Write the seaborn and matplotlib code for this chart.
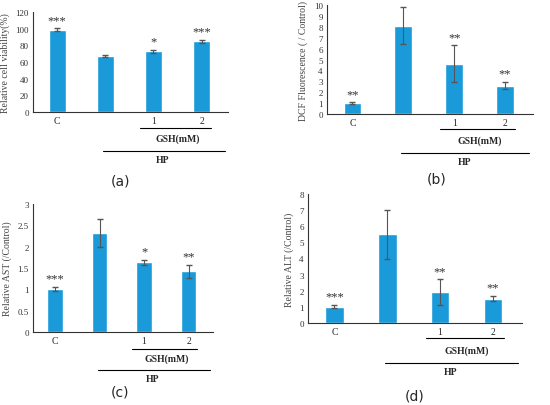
import matplotlib
matplotlib.use("Agg")
import matplotlib.pyplot as plt
import matplotlib.transforms as mtransforms
import seaborn as sns
import pandas as pd
import numpy as np

groups = ["C", "HP", "1", "2"]
tick_labels = ["C", "", "1", "2"]
a_vals = [99, 67, 73, 85]; a_err = [1.5, 1.5, 2, 2]
b_vals = [1.0, 8.1, 4.6, 2.6]; b_err = [0.1, 1.7, 1.7, 0.35]
c_vals = [1.0, 2.32, 1.63, 1.42]; c_err = [0.05, 0.33, 0.06, 0.15]
d_vals = [1.0, 5.5, 1.9, 1.5]; d_err = [0.1, 1.5, 0.8, 0.15]
a_stars = ["***", "", "*", "***"]
b_stars = ["**", "", "**", "**"]
c_stars = ["***", "", "*", "**"]
d_stars = ["***", "", "**", "**"]

sns.set_style("white")
plt.rcParams['font.family'] = ['Liberation Serif', 'DejaVu Serif']
W, H = 550, 406
fig = plt.figure(figsize=(W/100, H/100), dpi=100)

# (values, errors, stars, ylabel, ylim, step, axes box px, label, label pos px, bracket y px [gsh line, gsh text, hp line, hp text])
panels = [
    (a_vals, a_err, a_stars, "Relative cell viability(%)", (0, 120), 20, (33, 13, 228, 113), "(a)", (120, 182), (129, 134, 152, 156)),
    (b_vals, b_err, b_stars, "DCF Fluorescence ( / Control)", (0, 10), 1, (327, 6, 533, 115), "(b)", (437, 180), (130, 136, 154, 158)),
    (c_vals, c_err, c_stars, "Relative AST (/Control)", (0, 3), 0.5, (33, 205, 213, 333), "(c)", (120, 393), (350, 354, 371, 375)),
    (d_vals, d_err, d_stars, "Relative ALT (/Control)", (0, 8), 1, (308, 195, 522, 324), "(d)", (415, 397), (339, 346, 364, 368)),
]
blue = "#1a9ad9"
for vals, err, stars, ylab, ylim, step, box, lab, labpos, br in panels:
    x0, y0, x1, y1 = box
    ax = fig.add_axes([x0/W, 1-y1/H, (x1-x0)/W, (y1-y0)/H])
    df = pd.DataFrame({"g": groups, "v": vals})
    sns.barplot(data=df, x="g", y="v", color=blue, saturation=1, width=0.35, ax=ax, errorbar=None)
    ax.errorbar(range(4), vals, yerr=err, fmt="none", ecolor="#555555", elinewidth=0.8, capsize=2)
    ax.set_ylim(*ylim)
    ax.set_yticks(np.arange(ylim[0], ylim[1]+step/2, step))
    ax.set_yticklabels(["{:g}".format(t) for t in ax.get_yticks()], fontsize=6.5, color="#333333")
    ax.set_xticks(range(4)); ax.set_xticklabels(tick_labels, fontsize=7)
    ax.set_xlabel(""); ax.set_ylabel(ylab, fontsize=7, color="#444444")
    ax.set_xlim(-0.5, 3.55)
    for s in ["top", "right"]:
        ax.spines[s].set_visible(False)
    ax.spines["left"].set_color("#333333"); ax.spines["bottom"].set_color("#333333")
    ax.tick_params(length=0, pad=3)
    for i, (v, e, s) in enumerate(zip(vals, err, stars)):
        if s:
            ax.text(i, v + e + ylim[1]*0.02, s, ha="center", va="bottom", fontsize=9, color="#333333")
    tr = mtransforms.blended_transform_factory(ax.transData, fig.transFigure)
    ax.plot([1.73, 3.2], [1-br[0]/H]*2, transform=tr, color="black", lw=0.8, clip_on=False)
    ax.text(2.5, 1-br[1]/H, "GSH(mM)", transform=tr, ha="center", va="top", fontsize=7, fontweight="bold")
    ax.plot([0.96, 3.48], [1-br[2]/H]*2, transform=tr, color="black", lw=0.8, clip_on=False)
    ax.text(2.2, 1-br[3]/H, "HP", transform=tr, ha="center", va="top", fontsize=7, fontweight="bold")
    fig.text(labpos[0]/W, 1-labpos[1]/H, lab, ha="center", va="center", fontsize=10, family="DejaVu Sans")

fig.savefig("out.png", dpi=100)
